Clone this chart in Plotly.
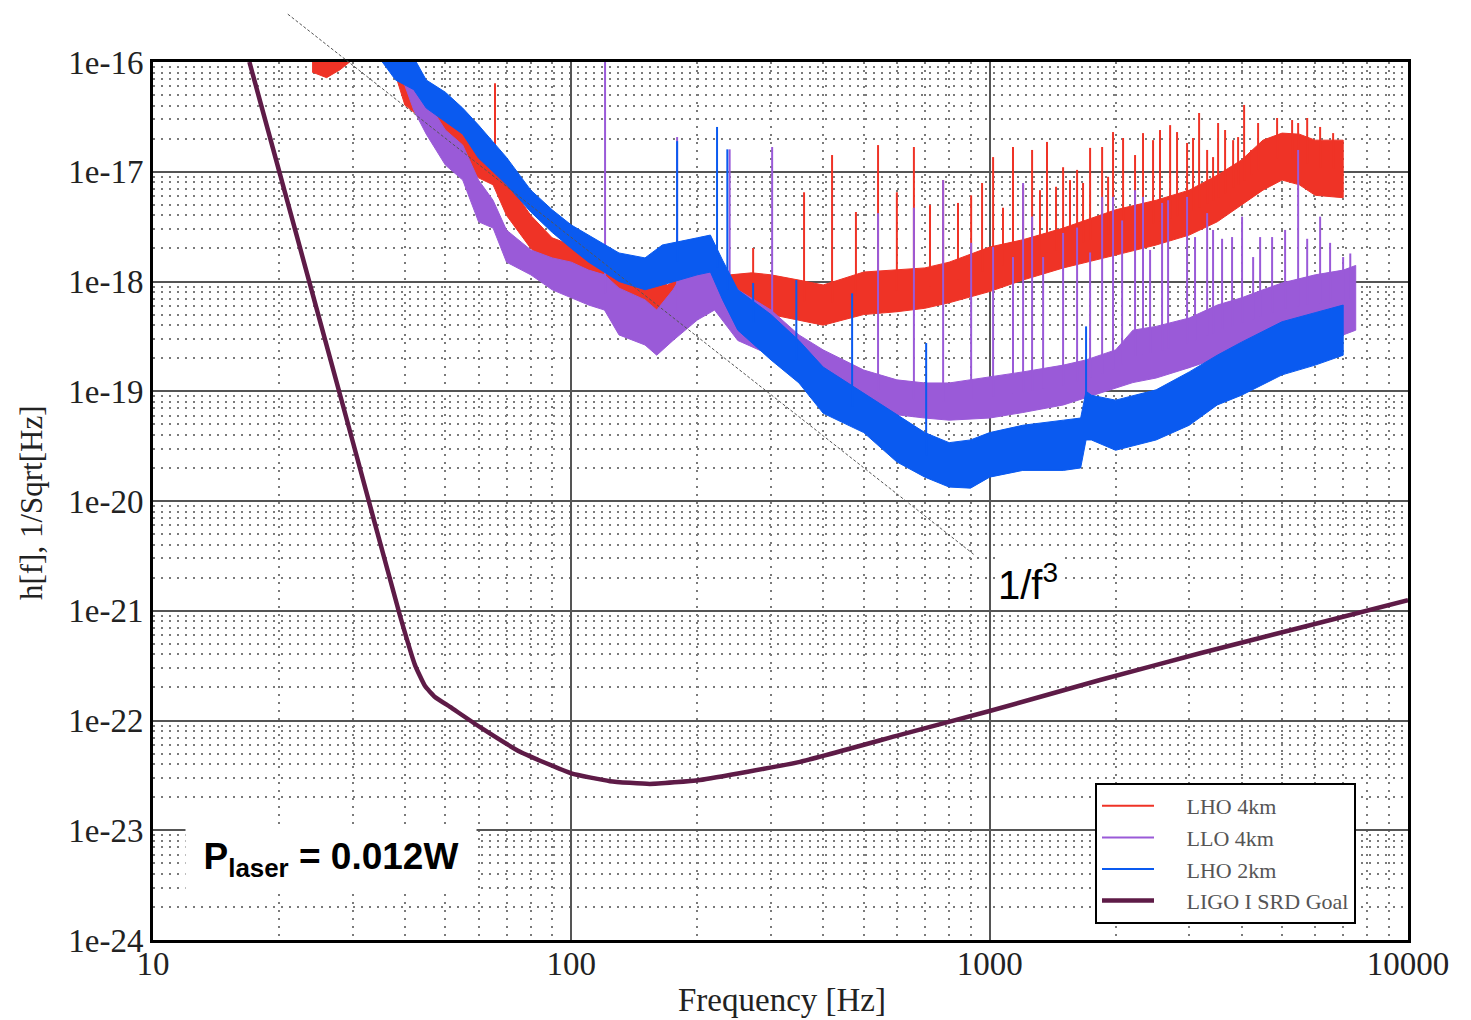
import numpy as np
import plotly.graph_objects as go

# ---------------- data ----------------
# LHO 4km (red) noise band: frequency, upper edge, lower edge
lho4_f = [24, 26, 28, 30, 35, 38, 40, 45, 50, 55, 60, 65, 70, 80, 90, 100, 110, 130, 150, 170,
          200, 220, 240, 270, 300, 350, 400, 500, 600, 700, 800, 1000, 1200, 1500, 2000, 2500,
          3000, 3500, 4000, 4500, 5000, 5500, 6000, 7000]
lho4_hi = [1.2e-16, 1.2e-16, 1.2e-16, 1.3e-16, 1.3e-16, 1.2e-16, 8.1e-17, 6.2e-17, 3.0e-17, 2.2e-17,
           1.75e-17, 1.15e-17, 8.4e-18, 4.0e-18, 2.5e-18, 2.15e-18, 1.64e-18, 1.33e-18, 1.15e-18, 9.3e-19,
           1.4e-18, 1.5e-18, 1.15e-18, 1.2e-18, 1.15e-18, 1.03e-18, 9.3e-19, 1.22e-18, 1.27e-18, 1.33e-18,
           1.5e-18, 2.06e-18, 2.4e-18, 3.07e-18, 4.5e-18, 5.5e-18, 6.8e-18, 9.3e-18, 1.28e-17, 1.94e-17,
           2.25e-17, 2.2e-17, 1.94e-17, 1.94e-17]
lho4_lo = [8.1e-17, 7.2e-17, 8.5e-17, 1.05e-16, 1.05e-16, 7.6e-17, 4.05e-17, 2.84e-17, 1.65e-17, 1.15e-17,
           8.8e-18, 7.6e-18, 4.0e-18, 2.0e-18, 1.4e-18, 1.27e-18, 8.4e-19, 6.1e-19, 5.5e-19, 5.3e-19,
           6.8e-19, 7.1e-19, 5.3e-19, 4.75e-19, 5.0e-19, 4.45e-19, 4.0e-19, 5.0e-19, 5.3e-19, 5.7e-19,
           6.4e-19, 8.1e-19, 1.03e-18, 1.33e-18, 1.74e-18, 2.15e-18, 2.65e-18, 3.5e-18, 5.0e-18, 6.8e-18,
           8.4e-18, 7.6e-18, 6.1e-18, 5.8e-18]
lho4_spike_f = [65.7, 272, 360, 420, 479, 541, 600, 659, 720, 774, 840, 903, 959, 1019, 1076, 1137,
                1202, 1263, 1319, 1371, 1441, 1498, 1556, 1618, 1672, 1738, 1857, 1919, 1972, 2084,
                2226, 2326, 2458, 2554, 2700, 2805, 2964, 3063, 3167, 3310, 3420, 3516, 3654, 3819,
                3925, 4057, 4216, 4382, 4865, 5284, 5462, 5741, 6165, 6622]
lho4_spike_h = [6.4e-17, 2.02e-18, 6.5e-18, 1.42e-17, 4.3e-18, 1.75e-17, 6.5e-18, 1.68e-17, 5.0e-18, 8.4e-18,
                5.2e-18, 6.1e-18, 7.9e-18, 1.36e-17, 4.7e-18, 1.68e-17, 7.6e-18, 1.58e-17, 6.8e-18, 1.87e-17,
                7.3e-18, 1.1e-17, 8.4e-18, 1.04e-17, 7.9e-18, 1.65e-17, 1.68e-17, 9.0e-18, 2.3e-17, 2.03e-17,
                1.42e-17, 2.25e-17, 1.94e-17, 2.4e-17, 2.66e-17, 2.3e-17, 1.83e-17, 2.03e-17, 3.43e-17, 1.58e-17,
                1.36e-17, 2.78e-17, 2.4e-17, 1.94e-17, 2.07e-17, 4.06e-17, 1.58e-17, 2.78e-17, 3.09e-17, 2.96e-17,
                2.78e-17, 3.09e-17, 2.56e-17, 2.25e-17]

# LLO 4km (purple)
llo4_f = [38, 42, 45, 50, 55, 60, 65, 70, 80, 90, 100, 110, 120, 130, 150, 160, 175, 200, 220, 250,
          300, 350, 400, 500, 600, 700, 800, 1000, 1200, 1500, 1700, 2000, 2200, 2500, 3000, 3500,
          4000, 4500, 5000, 6000, 7000, 7500]
llo4_hi = [1.2e-16, 6.85e-17, 4.5e-17, 2.4e-17, 1.75e-17, 8.4e-18, 5.5e-18, 2.94e-18, 1.94e-18, 1.64e-18,
           1.5e-18, 1.27e-18, 1.15e-18, 8.7e-19, 6.8e-19, 5.5e-19, 8.4e-19, 1.94e-18, 1.74e-18, 8.4e-19,
           5.5e-19, 3.26e-19, 2.38e-19, 1.56e-19, 1.27e-19, 1.19e-19, 1.19e-19, 1.35e-19, 1.5e-19, 1.73e-19,
           1.93e-19, 2.38e-19, 3.6e-19, 3.9e-19, 4.65e-19, 6.1e-19, 7.1e-19, 8.4e-19, 9.7e-19, 1.15e-18,
           1.27e-18, 1.4e-18]
llo4_lo = [1.05e-16, 3.65e-17, 2.2e-17, 1.15e-17, 8.4e-18, 3.5e-18, 3.07e-18, 1.5e-18, 1.15e-18, 8.4e-19,
           7.1e-19, 6.1e-19, 5.5e-19, 3.26e-19, 2.64e-19, 2.13e-19, 2.9e-19, 4.45e-19, 5.5e-19, 2.9e-19,
           2.13e-19, 1.41e-19, 1.03e-19, 8.3e-20, 6.1e-20, 5.7e-20, 5.45e-20, 5.7e-20, 6.4e-20, 7.5e-20,
           8.7e-20, 1.07e-19, 1.2e-19, 1.32e-19, 1.64e-19, 2.0e-19, 2.5e-19, 2.8e-19, 3.26e-19, 3.5e-19,
           3.26e-19, 3.6e-19]
llo4_spike_f = [120.4, 179, 239, 302, 541, 659, 774, 903, 1019, 1137, 1202, 1263, 1342, 1498, 1618,
                1738, 1857, 1972, 2073, 2226, 2326, 2418, 2583, 2670, 2964, 3097, 3310, 3420, 3594,
                3797, 4012, 4264, 4431, 4733, 5084, 5462, 5741, 6165, 6513, 6997, 7278]
llo4_spike_h = [1.5e-16, 2.07e-17, 1.6e-17, 1.68e-17, 4.2e-18, 4.7e-18, 8.4e-18, 2.25e-18, 2.06e-18, 1.67e-18,
                7.9e-18, 3.9e-18, 1.67e-18, 2.77e-18, 3.1e-18, 1.84e-18, 5.9e-18, 5.9e-18, 3.6e-18, 6.8e-18,
                5.9e-18, 1.94e-18, 5.2e-18, 5.5e-18, 5.9e-18, 2.54e-18, 4.2e-18, 2.95e-18, 2.45e-18, 2.54e-18,
                3.9e-18, 1.67e-18, 2.54e-18, 2.54e-18, 2.95e-18, 1.58e-17, 2.45e-18, 3.9e-18, 2.25e-18, 1.67e-18,
                1.8e-18]

# LHO 2km (blue)
lho2_f = [35, 38, 42, 45, 50, 55, 60, 65, 70, 80, 90, 100, 110, 120, 130, 150, 165, 200, 215, 230,
          250, 300, 350, 400, 500, 600, 700, 800, 900, 1000, 1200, 1500, 1650, 1700, 1750, 2000, 2500,
          3000, 3500, 4000, 4500, 5000, 6000, 7000]
lho2_hi = [1.3e-16, 1.2e-16, 1.1e-16, 6.85e-17, 5.3e-17, 3.8e-17, 2.66e-17, 1.87e-17, 1.35e-17, 6.8e-18,
           4.5e-18, 3.27e-18, 2.65e-18, 2.15e-18, 1.82e-18, 1.64e-18, 2.15e-18, 2.5e-18, 2.65e-18, 1.56e-18,
           8.4e-19, 5.0e-19, 2.9e-19, 1.66e-19, 9.6e-20, 6.1e-20, 4.2e-20, 3.4e-20, 3.6e-20, 4.2e-20,
           4.9e-20, 5.45e-20, 5.7e-20, 1.0e-19, 9.2e-20, 8.3e-20, 1.03e-19, 1.5e-19, 2.13e-19, 2.8e-19,
           3.5e-19, 4.3e-19, 5.2e-19, 6.1e-19]
lho2_lo = [1.05e-16, 6.85e-17, 5.6e-17, 3.8e-17, 2.84e-17, 2.2e-17, 1.33e-17, 1.0e-17, 7.6e-18, 4.3e-18,
           2.8e-18, 2.0e-18, 1.5e-18, 1.22e-18, 1.0e-18, 8.4e-19, 9.3e-19, 1.15e-18, 1.22e-18, 6.8e-19,
           3.6e-19, 1.93e-19, 1.19e-19, 6.3e-20, 4.2e-20, 2.27e-20, 1.65e-20, 1.34e-20, 1.31e-20, 1.65e-20,
           1.9e-20, 1.9e-20, 2.0e-20, 3.6e-20, 3.6e-20, 2.9e-20, 3.6e-20, 4.9e-20, 7.5e-20, 9.2e-20,
           1.15e-19, 1.41e-19, 1.73e-19, 2.13e-19]
lho2_spike_f = [179, 223, 236, 272, 345, 469, 705, 1700]
lho2_spike_h = [1.9e-17, 2.56e-17, 1.6e-17, 9.7e-19, 1.03e-18, 7.8e-19, 2.75e-19, 3.9e-19]

# LIGO I SRD goal
srd_f = [17.0, 22.5, 29.6, 38.9, 42.3, 44.7, 47.2, 51.3, 60.5, 75.4, 100, 123.7, 154, 203, 352, 611,
         1000, 1836, 3184, 5521, 10000]
srd_h = [1e-16, 1.98e-18, 4.25e-20, 9.15e-22, 3.2e-22, 2.06e-22, 1.64e-22, 1.33e-22, 8.7e-23, 5.2e-23,
         3.3e-23, 2.8e-23, 2.64e-23, 2.87e-23, 4.2e-23, 7.4e-23, 1.22e-22, 2.34e-22, 4.1e-22, 7.0e-22, 1.25e-21]

# 1/f^3 guide line end points
f3_f = [21.0, 922]
f3_h = [2.73e-16, 3.2e-21]

x_tick_vals = [10, 100, 1000, 10000]
x_tick_text = ["10", "100", "1000", "10000"]
y_tick_vals = [1e-16, 1e-17, 1e-18, 1e-19, 1e-20, 1e-21, 1e-22, 1e-23, 1e-24]
y_tick_text = ["1e-16", "1e-17", "1e-18", "1e-19", "1e-20", "1e-21", "1e-22", "1e-23", "1e-24"]

X_RANGE = [1, 4]
Y_RANGE = [-24, -16]

RED = "#ef3326"
PURPLE = "#9a5ad8"
BLUE = "#0a5af0"
SRD = "#5e1b47"

fig = go.Figure()

PAD = "\u00a0" * 5


def add_series(name, f, hi, lo, sf, sh, color, lw):
    fig.add_trace(go.Scatter(
        x=list(f) + list(f)[::-1], y=list(hi) + list(lo)[::-1],
        fill="toself", fillcolor=color, mode="lines",
        line=dict(color=color, width=1), hoverinfo="skip", showlegend=False))
    lf = np.log10(f)
    mid = 0.5 * (np.log10(hi) + np.log10(lo))
    base = 10 ** np.interp(np.log10(sf), lf, mid)
    xs, ys = [], []
    for fx, b, p in zip(sf, base, sh):
        xs += [fx, fx, None]
        ys += [b, p, None]
    fig.add_trace(go.Scatter(x=xs, y=ys, mode="lines", name=PAD + name,
                             line=dict(color=color, width=lw)))


add_series("LHO 4km", lho4_f, lho4_hi, lho4_lo, lho4_spike_f, lho4_spike_h, RED, 2)
add_series("LLO 4km", llo4_f, llo4_hi, llo4_lo, llo4_spike_f, llo4_spike_h, PURPLE, 2)
add_series("LHO 2km", lho2_f, lho2_hi, lho2_lo, lho2_spike_f, lho2_spike_h, BLUE, 2)

fig.add_trace(go.Scatter(x=srd_f, y=srd_h, mode="lines", name=PAD + "LIGO I SRD Goal",
                         line=dict(color=SRD, width=4.5, shape="spline", smoothing=0.4)))


def to_paper_x(f):
    return (np.log10(f) - X_RANGE[0]) / (X_RANGE[1] - X_RANGE[0])


def to_paper_y(h):
    return (np.log10(h) - Y_RANGE[0]) / (Y_RANGE[1] - Y_RANGE[0])


fig.add_shape(type="line", xref="paper", yref="paper",
              x0=to_paper_x(f3_f[0]), y0=to_paper_y(f3_h[0]),
              x1=to_paper_x(f3_f[1]), y1=to_paper_y(f3_h[1]),
              line=dict(color="#555555", width=1, dash="3px,2px"))

minor_x = [m * 10 ** k for k in range(1, 4) for m in range(2, 10)]
minor_y = [m * 10.0 ** k for k in range(-24, -16) for m in range(2, 10)]

serif = "Liberation Serif"
axis_common = dict(
    type="log", showline=True, linecolor="black", linewidth=3, mirror=True,
    showgrid=True, gridcolor="#555555", gridwidth=2, ticks="", ticklen=0, zeroline=False,
    tickfont=dict(family=serif, size=33, color="#222222"), automargin=False,
)
minor_common = dict(showgrid=True, gridcolor="#7a7a7a", gridwidth=2, griddash="2px,6px", ticks="")

fig.update_xaxes(range=X_RANGE, tickvals=x_tick_vals, ticktext=x_tick_text,
                 ticklabelstandoff=-8, minor=dict(tickvals=minor_x, **minor_common),
                 **axis_common)
fig.update_yaxes(range=Y_RANGE, tickvals=y_tick_vals, ticktext=y_tick_text,
                 ticklabelstandoff=0, minor=dict(tickvals=minor_y, **minor_common),
                 **axis_common)

fig.update_layout(
    width=1471, height=1020,
    margin=dict(l=153, r=63, t=62, b=80),
    paper_bgcolor="white", plot_bgcolor="white",
    showlegend=True,
    legend=dict(x=0.7506, y=0.1788, xanchor="left", yanchor="top",
                bgcolor="white", bordercolor="black", borderwidth=2,
                font=dict(family=serif, size=22, color="#555555"),
                itemwidth=52),
    annotations=[
        dict(text="h[f], 1/Sqrt[Hz]", xref="paper", yref="paper", x=-0.0972, y=0.4977,
             textangle=-90, showarrow=False, xanchor="center", yanchor="middle",
             font=dict(family=serif, size=31, color="#222222")),
        dict(text="Frequency [Hz]", xref="paper", yref="paper", x=0.501, y=-0.0683,
             showarrow=False, xanchor="center", yanchor="middle",
             font=dict(family=serif, size=33, color="#222222")),
        dict(text="1/f<sup>3</sup>", xref="paper", yref="paper", x=0.672, y=0.4077,
             showarrow=False, xanchor="left", yanchor="middle", bgcolor="white",
             font=dict(family="Liberation Sans", size=40, color="black")),
        dict(text="<b>P<sub>laser</sub> = 0.012W</b>", xref="paper", yref="paper",
             x=0.1418, y=0.0923, showarrow=False, xanchor="center", yanchor="middle",
             bgcolor="white", width=282, height=54, borderpad=4,
             font=dict(family="Liberation Sans", size=37, color="black")),
    ],
)

fig.write_html("out.html")
